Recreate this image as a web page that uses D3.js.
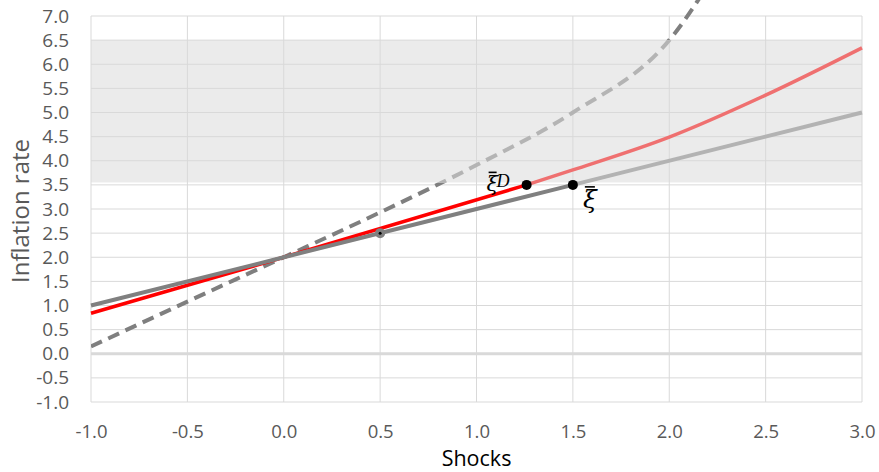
<!DOCTYPE html>
<html>
<head>
<meta charset="utf-8">
<script src="https://cdn.jsdelivr.net/npm/d3@7"></script>
<style>
  body { margin: 0; background: #fff; }
</style>
</head>
<body>
<div id="chart"></div>
<script>
// Solid grey line (baseline rule), dark part and light continuation
const baseShocks = [-1.0, 0.0, 1.5];
const baseInfl = [1.0, 2.0, 3.5];
const baseExtShocks = [1.5, 3.0];
const baseExtInfl = [3.5, 5.0];

// Red line (discretion), dark part and light continuation
const redShocks = [-1.0, 0.0, 1.26];
const redInfl = [0.84, 2.0, 3.5];
const redExtShocks = [1.26, 1.5, 2.0, 2.5, 3.0];
const redExtInfl = [3.5, 3.81, 4.49, 5.36, 6.34];

// Dashed grey curve
const dashShocks = [-1.0, -0.5, 0.0, 0.5, 1.0, 1.5, 2.0, 2.5];
const dashInfl = [0.15, 1.08, 2.0, 2.93, 3.91, 5.0, 6.5, 9.8];

// Marked points
const dotShocks = [1.26, 1.5];
const dotInfl = [3.5, 3.5];
const greyDotShock = [0.5];
const greyDotInfl = [2.5];

// Shaded region on the y axis
const bandRange = [3.55, 6.5];

const xTickValues = [-1.0, -0.5, 0.0, 0.5, 1.0, 1.5, 2.0, 2.5, 3.0];
const yTickValues = [-1.0, -0.5, 0.0, 0.5, 1.0, 1.5, 2.0, 2.5, 3.0, 3.5, 4.0, 4.5, 5.0, 5.5, 6.0, 6.5, 7.0];

function zip(xs, ys) {
    return xs.map((x, i) => ({ x: x, y: ys[i] }));
}

const fmt = d => d3.format('.1f')(d).replace('\u2212', '-');

function createChart(containerId)
{
    const width = 879;
    const height = 472;
    const margin = { top: 16, right: 17, bottom: 70, left: 91 };

    const svg = d3.select(containerId)
        .append('svg')
        .attr('width', width)
        .attr('height', height)
        .style('font-family', '"Open Sans", sans-serif');

    const xScale = d3.scaleLinear()
        .domain([-1, 3])
        .range([margin.left, width - margin.right]);

    const yScale = d3.scaleLinear()
        .domain([-1, 7])
        .range([height - margin.bottom, margin.top]);

    // Shaded band
    svg.append('rect')
        .attr('x', xScale(-1))
        .attr('y', yScale(bandRange[1]))
        .attr('width', xScale(3) - xScale(-1))
        .attr('height', yScale(bandRange[0]) - yScale(bandRange[1]))
        .attr('fill', '#ebebeb');

    // Grid lines
    svg.append('g')
        .selectAll('line')
        .data(yTickValues)
        .join('line')
        .attr('x1', xScale(-1))
        .attr('x2', xScale(3))
        .attr('y1', d => yScale(d))
        .attr('y2', d => yScale(d))
        .attr('stroke', '#d9d9d9')
        .attr('stroke-width', d => d === 0 ? 3 : 1);

    svg.append('g')
        .selectAll('line')
        .data(xTickValues)
        .join('line')
        .attr('x1', d => xScale(d))
        .attr('x2', d => xScale(d))
        .attr('y1', yScale(-1))
        .attr('y2', yScale(7))
        .attr('stroke', '#d9d9d9')
        .attr('stroke-width', 1);

    // Axes (labels only)
    const xAxis = d3.axisBottom(xScale)
        .tickValues(xTickValues)
        .tickFormat(fmt)
        .tickSize(0)
        .tickPadding(23);
    const gx = svg.append('g')
        .attr('transform', `translate(0, ${yScale(-1)})`)
        .call(xAxis);
    gx.select('.domain').remove();
    gx.selectAll('text')
        .attr('fill', '#595959')
        .style('font-size', '18.5px')
        .style('font-family', '"Open Sans", sans-serif');

    const yAxis = d3.axisLeft(yScale)
        .tickValues(yTickValues)
        .tickFormat(fmt)
        .tickSize(0)
        .tickPadding(22);
    const gy = svg.append('g')
        .attr('transform', `translate(${xScale(-1)}, 0)`)
        .call(yAxis);
    gy.select('.domain').remove();
    gy.selectAll('text')
        .attr('fill', '#595959')
        .style('font-size', '19px')
        .style('font-family', '"Open Sans", sans-serif');

    // Clip paths for the dashed curve: inside band / outside band
    const defs = svg.append('defs');
    defs.append('clipPath').attr('id', 'inBand')
        .append('rect')
        .attr('x', xScale(-1))
        .attr('y', yScale(bandRange[1]))
        .attr('width', xScale(3) - xScale(-1))
        .attr('height', yScale(bandRange[0]) - yScale(bandRange[1]));
    const outClip = defs.append('clipPath').attr('id', 'outBand');
    outClip.append('rect')
        .attr('x', xScale(-1))
        .attr('y', yScale(bandRange[0]))
        .attr('width', xScale(3) - xScale(-1))
        .attr('height', yScale(-1) - yScale(bandRange[0]));
    outClip.append('rect')
        .attr('x', xScale(-1))
        .attr('y', yScale(7) - 20)
        .attr('width', xScale(3) - xScale(-1))
        .attr('height', yScale(bandRange[1]) - yScale(7) + 20);
    defs.append('clipPath').attr('id', 'plotArea')
        .append('rect')
        .attr('x', xScale(-1))
        .attr('y', 0)
        .attr('width', xScale(3) - xScale(-1))
        .attr('height', yScale(-1));

    const straight = d3.line()
        .x(d => xScale(d.x))
        .y(d => yScale(d.y));
    const smooth = d3.line()
        .x(d => xScale(d.x))
        .y(d => yScale(d.y))
        .curve(d3.curveMonotoneX);

    // Dashed curve
    const dashData = zip(dashShocks, dashInfl);
    const dashG = svg.append('g').attr('clip-path', 'url(#plotArea)');
    dashG.append('path')
        .datum(dashData)
        .attr('clip-path', 'url(#outBand)')
        .attr('fill', 'none')
        .attr('stroke', '#7f7f7f')
        .attr('stroke-width', 4)
        .attr('stroke-dasharray', '12,7')
        .attr('d', smooth);
    dashG.append('path')
        .datum(dashData)
        .attr('clip-path', 'url(#inBand)')
        .attr('fill', 'none')
        .attr('stroke', '#b4b4b4')
        .attr('stroke-width', 4)
        .attr('stroke-dasharray', '12,7')
        .attr('d', smooth);

    // Red line
    svg.append('path')
        .datum(zip(redExtShocks, redExtInfl))
        .attr('fill', 'none')
        .attr('stroke', '#ef7070')
        .attr('stroke-width', 3.5)
        .attr('d', smooth);
    svg.append('path')
        .datum(zip(redShocks, redInfl))
        .attr('fill', 'none')
        .attr('stroke', '#ff0000')
        .attr('stroke-width', 3.5)
        .attr('d', straight);

    // Grey line
    svg.append('path')
        .datum(zip(baseExtShocks, baseExtInfl))
        .attr('fill', 'none')
        .attr('stroke', '#b3b3b3')
        .attr('stroke-width', 4)
        .attr('d', straight);
    svg.append('path')
        .datum(zip(baseShocks, baseInfl))
        .attr('fill', 'none')
        .attr('stroke', '#808080')
        .attr('stroke-width', 4)
        .attr('d', straight);

    // Grey point with small black centre
    const gd = zip(greyDotShock, greyDotInfl);
    svg.selectAll('.greydot')
        .data(gd)
        .join('circle')
        .attr('cx', d => xScale(d.x))
        .attr('cy', d => yScale(d.y))
        .attr('r', 5)
        .attr('fill', '#808080');
    svg.selectAll('.greydotc')
        .data(gd)
        .join('circle')
        .attr('cx', d => xScale(d.x))
        .attr('cy', d => yScale(d.y))
        .attr('r', 1.5)
        .attr('fill', '#000');

    // Black points
    svg.append('g')
        .selectAll('circle')
        .data(zip(dotShocks, dotInfl))
        .join('circle')
        .attr('cx', d => xScale(d.x))
        .attr('cy', d => yScale(d.y))
        .attr('r', 5)
        .attr('fill', '#000');

    // Point labels: xi-bar D (discretion) and xi-bar
    const dx = xScale(dotShocks[0]);
    const dy = yScale(dotInfl[0]);
    svg.append('text')
        .attr('x', dx - 40)
        .attr('y', dy + 6)
        .style('font-family', '"DejaVu Serif", serif')
        .style('font-style', 'italic')
        .style('font-size', '21px')
        .attr('fill', '#000')
        .text('\u03BE');
    svg.append('line')
        .attr('x1', dx - 38).attr('x2', dx - 30)
        .attr('y1', dy - 12.5).attr('y2', dy - 12.5)
        .attr('stroke', '#000').attr('stroke-width', 1.6);
    svg.append('text')
        .attr('x', dx - 30)
        .attr('y', dy + 2)
        .style('font-family', '"Liberation Serif", serif')
        .style('font-style', 'italic')
        .style('font-size', '18px')
        .attr('fill', '#000')
        .text('D');

    const bx = xScale(dotShocks[1]);
    const by = yScale(dotInfl[1]);
    svg.append('text')
        .attr('x', bx + 10)
        .attr('y', by + 23)
        .style('font-family', '"DejaVu Serif", serif')
        .style('font-style', 'italic')
        .style('font-size', '25px')
        .attr('fill', '#000')
        .text('\u03BE');
    svg.append('line')
        .attr('x1', bx + 12).attr('x2', bx + 22)
        .attr('y1', by + 2).attr('y2', by + 2)
        .attr('stroke', '#000').attr('stroke-width', 1.6);

    // Axis titles
    svg.append('text')
        .attr('x', (xScale(-1) + xScale(3)) / 2)
        .attr('y', 465.5)
        .attr('text-anchor', 'middle')
        .attr('fill', '#000')
        .style('font-size', '21.5px')
        .text('Shocks');

    svg.append('text')
        .attr('transform', 'rotate(-90)')
        .attr('x', -211)
        .attr('y', 29)
        .attr('text-anchor', 'middle')
        .attr('fill', '#595959')
        .style('font-size', '24px')
        .text('Inflation rate');
}

createChart('#chart');
</script>
</body>
</html>
